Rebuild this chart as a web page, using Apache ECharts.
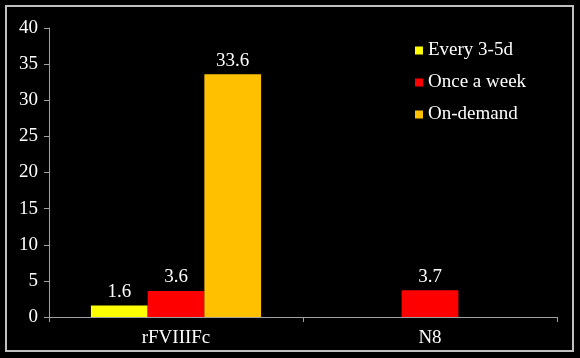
<!DOCTYPE html>
<html><head><meta charset="utf-8">
<script src="https://cdn.jsdelivr.net/npm/echarts@6/dist/echarts.min.js"></script>
<style>html,body{margin:0;padding:0;background:#000;}#c{width:580px;height:358px;}</style>
</head><body><div id="c"></div>
<script>
const categories = ['rFVIIIFc', 'N8'];
const seriesNames = ['Every 3-5d', 'Once a week', 'On-demand'];
const every35d = [1.6, null];
const onceAWeek = [3.6, 3.7];
const onDemand = [33.6, null];
const colors = ['#FFFF00', '#FF0000', '#FFC000'];
const font = 'Liberation Serif, Times New Roman, serif';
const chart = echarts.init(document.getElementById('c'));
const lbl = {show: true, position: 'top', distance: 4, color: '#fff', fontFamily: font, fontSize: 19};
const values = [every35d, onceAWeek, onDemand];
chart.setOption({
  backgroundColor: '#000',
  animation: false,
  graphic: [{type: 'rect', shape: {x: 6, y: 6, width: 567, height: 345}, style: {fill: 'none', stroke: '#c0c0c0', lineWidth: 2}, silent: true}],
  grid: {left: 49, right: 23, top: 28, bottom: 41},
  legend: {
    orient: 'vertical', left: 410, top: 36, itemWidth: 8, itemHeight: 8, itemGap: 13,
    icon: 'rect',
    textStyle: {color: '#fff', fontFamily: font, fontSize: 19},
    data: seriesNames
  },
  xAxis: {
    type: 'category', data: categories,
    axisLine: {lineStyle: {color: '#a0a0a0', width: 1}},
    axisTick: {show: true, length: 5, lineStyle: {color: '#a0a0a0'}},
    axisLabel: {color: '#fff', fontFamily: font, fontSize: 19, margin: 12}
  },
  yAxis: {
    type: 'value', min: 0, max: 40, interval: 5,
    splitLine: {show: false},
    axisLine: {show: true, lineStyle: {color: '#a0a0a0', width: 1}},
    axisTick: {show: true, length: 5, lineStyle: {color: '#a0a0a0'}},
    axisLabel: {color: '#fff', fontFamily: font, fontSize: 19, margin: 11}
  },
  series: seriesNames.map((n, i) => ({
    name: n, type: 'bar', data: values[i], barGap: '0%', barCategoryGap: '33%',
    itemStyle: {color: colors[i]}, label: lbl
  }))
});
</script></body></html>
